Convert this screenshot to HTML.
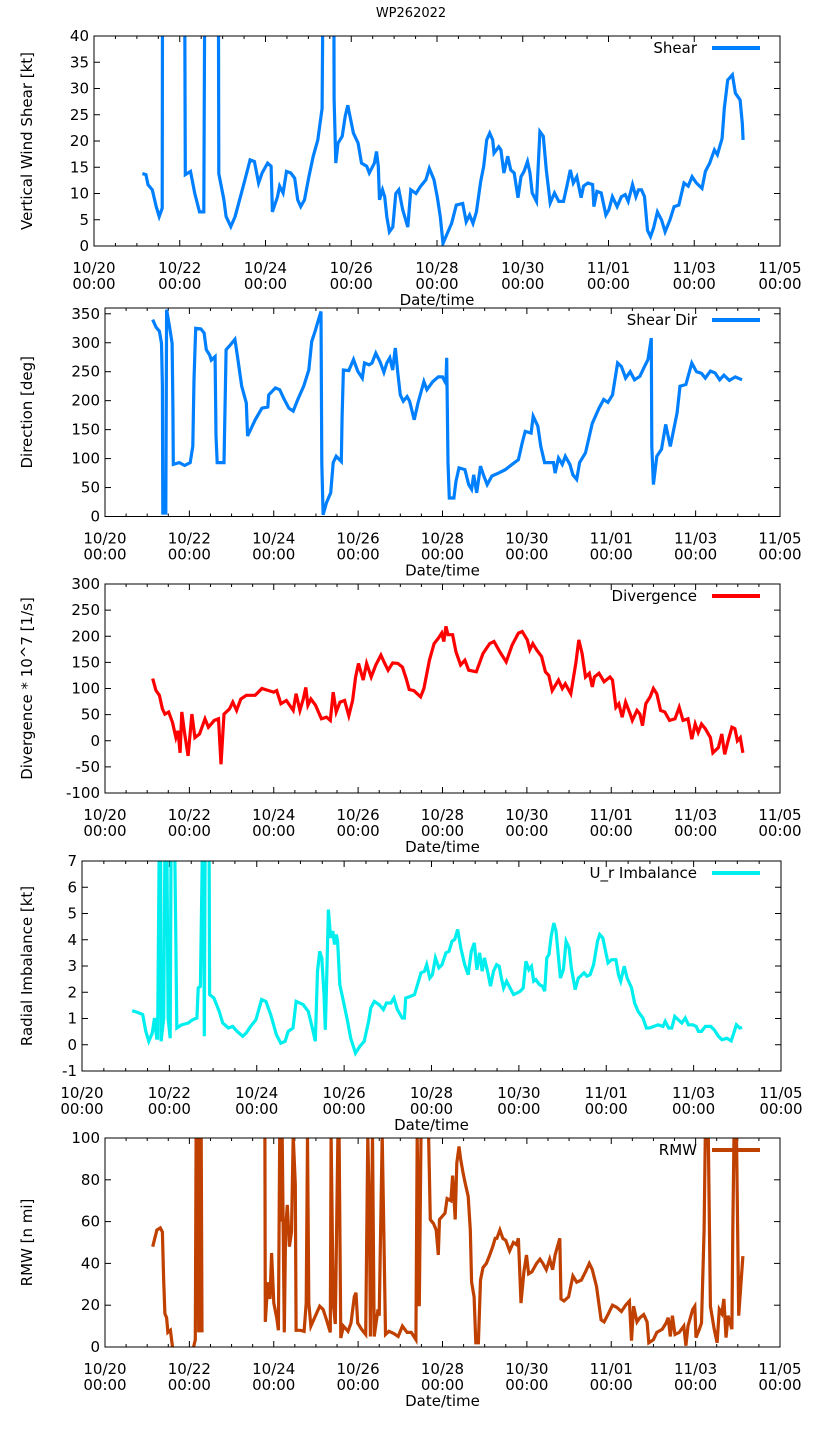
<!DOCTYPE html>
<html><head><meta charset="utf-8"><title>WP262022</title>
<style>
html,body{margin:0;padding:0;background:#fff;}
svg{display:block;font-family:"DejaVu Sans","Liberation Sans",sans-serif;}
</style></head>
<body>
<svg id="chart" width="822" height="1439" viewBox="0 0 822 1439" xmlns="http://www.w3.org/2000/svg">
<text x="411" y="17" text-anchor="middle" font-size="13">WP262022</text>
</svg>
<script>
// ---- data (days since 10/20 00:00, values) ----
const xTickLabels = ["10/20","10/22","10/24","10/26","10/28","10/30","11/01","11/03","11/05"];
const shearDays = [1.13,1.21,1.26,1.36,1.45,1.52,1.59,1.60,2.11,2.13,2.25,2.35,2.46,2.56,2.59,2.90,2.91,3.03,3.08,3.19,3.29,3.50,3.64,3.74,3.84,3.92,4.05,4.13,4.16,4.28,4.33,4.41,4.49,4.59,4.68,4.75,4.82,4.91,5.01,5.11,5.22,5.32,5.35,5.59,5.60,5.64,5.69,5.79,5.86,5.92,5.97,6.05,6.16,6.24,6.36,6.42,6.54,6.59,6.63,6.66,6.73,6.78,6.83,6.89,6.97,7.04,7.11,7.20,7.32,7.39,7.51,7.61,7.74,7.82,7.93,8.01,8.08,8.14,8.24,8.34,8.45,8.60,8.68,8.76,8.84,8.92,9.02,9.09,9.16,9.23,9.30,9.33,9.44,9.49,9.56,9.65,9.72,9.80,9.89,9.96,10.03,10.11,10.17,10.22,10.32,10.40,10.48,10.55,10.64,10.74,10.84,10.95,11.03,11.11,11.18,11.26,11.36,11.42,11.52,11.63,11.66,11.73,11.83,11.94,12.01,12.09,12.20,12.30,12.39,12.46,12.56,12.64,12.70,12.77,12.84,12.91,12.98,13.05,13.14,13.24,13.32,13.43,13.53,13.64,13.76,13.86,13.95,14.05,14.18,14.26,14.36,14.47,14.54,14.65,14.70,14.78,14.89,14.96,15.07,15.12,15.14];
const shearValues = [13.8,13.6,11.7,10.7,7.5,5.6,7.2,60,60,13.6,14.2,10.0,6.5,6.5,60,60,13.8,8.8,5.6,3.7,5.6,12.0,16.4,16.1,12.0,13.9,15.8,15.2,6.5,9.4,11.4,10.1,14.2,13.9,12.9,8.8,7.5,8.8,13.1,17.0,20.2,26.2,60,60,28.0,15.8,19.6,20.9,24.7,26.8,24.7,21.5,19.6,15.8,15.2,13.9,15.8,18.0,15.2,8.8,10.7,9.4,5.6,2.7,3.6,10.0,10.7,6.9,3.6,10.7,10.0,11.3,12.6,14.8,12.6,9.2,5.4,0.5,2.4,4.3,7.8,8.1,4.6,5.9,4.3,6.5,12.3,15.2,20.2,21.5,20.2,17.7,18.9,18.3,13.9,17.1,14.5,13.9,9.2,13.2,14.2,16.1,13.9,10.1,8.5,21.8,20.9,14.5,8.2,10.1,8.5,8.5,11.4,14.5,12.0,13.2,9.2,11.4,12.0,11.7,7.5,10.4,10.1,5.9,6.9,9.4,7.5,9.4,9.8,8.5,11.7,9.4,10.7,10.7,9.4,3.0,1.8,3.4,6.5,4.9,2.7,4.9,7.5,7.8,12.0,11.4,13.2,12.0,11.0,14.2,15.8,18.3,17.4,20.5,26.2,31.6,32.6,29.1,27.8,23.4,20.2];
const dirDays = [1.13,1.21,1.29,1.34,1.36,1.37,1.44,1.46,1.53,1.59,1.61,1.62,1.76,1.89,2.02,2.08,2.11,2.15,2.27,2.35,2.40,2.48,2.52,2.61,2.63,2.66,2.82,2.87,2.98,3.08,3.14,3.24,3.35,3.38,3.56,3.72,3.86,3.88,4.04,4.14,4.25,4.36,4.46,4.57,4.71,4.83,4.90,4.99,5.06,5.12,5.14,5.17,5.25,5.35,5.41,5.48,5.60,5.62,5.65,5.78,5.89,5.99,6.10,6.15,6.26,6.33,6.42,6.52,6.61,6.68,6.75,6.82,6.88,6.94,7.00,7.07,7.16,7.22,7.33,7.42,7.56,7.63,7.77,7.90,8.00,8.08,8.10,8.13,8.16,8.27,8.32,8.39,8.53,8.62,8.69,8.74,8.81,8.90,8.98,9.06,9.17,9.33,9.49,9.65,9.80,9.89,9.96,10.10,10.15,10.26,10.33,10.42,10.63,10.67,10.75,10.84,10.91,11.02,11.09,11.18,11.25,11.39,11.55,11.71,11.82,11.92,12.03,12.15,12.24,12.34,12.45,12.55,12.68,12.77,12.87,12.95,12.96,13.00,13.08,13.19,13.29,13.40,13.56,13.63,13.77,13.91,14.02,14.14,14.23,14.35,14.46,14.57,14.67,14.80,14.94,15.10];
const dirValues = [340,327,320,299,225,6,6,357,328,299,190,90,93,88,93,121,236,325,324,317,288,279,270,276,139,93,93,288,297,306,276,225,196,139,167,187,189,210,222,219,202,187,182,202,225,253,302,322,340,354,93,3,24,41,93,104,95,173,253,252,271,251,239,265,262,265,282,267,249,265,274,253,291,248,210,199,207,199,167,196,233,219,233,241,241,230,274,93,32,32,61,84,81,55,47,72,41,87,70,55,70,75,81,90,98,127,147,144,173,156,121,93,93,75,101,90,104,90,72,64,93,110,161,187,202,197,210,265,259,239,250,236,242,256,271,308,121,55,104,116,159,121,179,225,228,265,250,247,239,251,248,236,244,235,241,236];
const divDays = [1.13,1.21,1.29,1.36,1.42,1.51,1.60,1.68,1.73,1.78,1.82,1.89,1.97,2.06,2.13,2.24,2.37,2.45,2.59,2.69,2.75,2.82,2.95,3.03,3.12,3.22,3.35,3.56,3.72,3.88,4.00,4.07,4.17,4.30,4.46,4.53,4.62,4.70,4.76,4.81,4.88,4.99,5.13,5.25,5.34,5.41,5.48,5.57,5.68,5.78,5.87,5.94,6.01,6.12,6.20,6.31,6.42,6.54,6.63,6.71,6.82,6.94,7.05,7.14,7.21,7.32,7.48,7.56,7.69,7.80,7.90,7.98,8.03,8.08,8.13,8.24,8.32,8.43,8.53,8.62,8.80,8.96,9.12,9.22,9.36,9.51,9.65,9.80,9.89,10.01,10.07,10.14,10.23,10.35,10.44,10.52,10.60,10.75,10.84,10.91,11.04,11.16,11.23,11.31,11.39,11.48,11.55,11.60,11.71,11.83,11.97,12.03,12.11,12.18,12.26,12.34,12.45,12.50,12.61,12.68,12.74,12.82,12.92,13.00,13.08,13.17,13.27,13.38,13.51,13.61,13.70,13.82,13.91,13.99,14.06,14.14,14.23,14.35,14.41,14.54,14.62,14.69,14.76,14.86,14.93,14.99,15.06,15.12];
const divValues = [119,96,87,61,51,55,35,6,19,-23,55,13,-29,51,6,13,42,26,39,42,-45,51,61,74,58,80,87,87,100,96,93,96,71,77,58,90,58,80,102,68,80,68,42,45,39,93,55,74,77,48,77,122,148,116,148,122,145,164,148,135,149,148,141,119,98,96,84,100,154,186,196,206,190,219,203,203,170,145,154,135,132,167,186,190,170,151,183,206,209,193,174,186,174,161,132,125,96,116,100,109,90,148,193,167,122,129,103,122,129,113,122,116,64,71,45,74,51,39,58,51,29,71,84,100,90,58,55,39,42,64,39,42,3,32,16,32,23,6,-23,-13,13,-26,-3,26,23,0,6,-23];
const urDays = [1.15,1.31,1.39,1.46,1.53,1.61,1.66,1.71,1.73,1.77,1.80,1.81,1.87,1.90,1.94,1.97,2.02,2.04,2.12,2.15,2.17,2.28,2.43,2.53,2.63,2.66,2.71,2.76,2.78,2.80,2.82,2.91,2.92,3.02,3.14,3.22,3.35,3.45,3.55,3.68,3.76,3.86,3.98,4.11,4.21,4.32,4.45,4.55,4.65,4.72,4.83,4.90,5.06,5.18,5.29,5.34,5.39,5.44,5.49,5.54,5.57,5.59,5.64,5.69,5.74,5.78,5.82,5.85,5.90,6.00,6.08,6.15,6.26,6.36,6.46,6.56,6.61,6.69,6.80,6.90,6.97,7.07,7.14,7.22,7.33,7.38,7.41,7.51,7.61,7.68,7.76,7.84,7.89,7.96,8.02,8.09,8.17,8.24,8.33,8.40,8.47,8.53,8.60,8.67,8.76,8.84,8.91,8.98,9.04,9.10,9.16,9.21,9.29,9.35,9.42,9.49,9.55,9.59,9.65,9.72,9.80,9.88,9.96,10.03,10.10,10.16,10.23,10.29,10.34,10.39,10.47,10.54,10.59,10.64,10.69,10.74,10.80,10.85,10.90,10.95,11.02,11.08,11.15,11.20,11.29,11.36,11.41,11.49,11.56,11.63,11.71,11.80,11.85,11.92,11.97,12.04,12.12,12.22,12.28,12.33,12.41,12.48,12.58,12.65,12.73,12.84,12.92,12.99,13.09,13.19,13.30,13.35,13.43,13.50,13.57,13.65,13.73,13.81,13.88,13.98,14.06,14.11,14.18,14.27,14.39,14.47,14.57,14.65,14.76,14.86,14.93,14.98,15.06,15.11];
const urValues = [1.30,1.21,1.15,0.51,0.13,0.45,1.02,0.25,0.25,8,8,0.13,1.02,8,8,1.02,0.25,8,8,3.8,0.64,0.76,0.83,0.95,1.02,2.16,2.23,8,8,0.32,8,8,1.91,1.78,1.27,0.83,0.64,0.70,0.51,0.32,0.45,0.70,0.95,1.72,1.65,1.15,0.38,0.06,0.13,0.51,0.64,1.65,1.53,1.27,0.51,0.13,2.80,3.56,3.31,1.91,0.57,1.78,5.15,4.07,4.33,3.82,4.20,3.94,2.29,1.53,0.89,0.25,-0.32,-0.06,0.13,0.89,1.40,1.65,1.53,1.34,1.59,1.59,1.78,1.34,1.02,1.02,1.78,1.84,1.91,2.29,2.74,2.80,3.05,2.54,2.67,3.31,2.93,3.05,3.50,3.56,3.94,4.01,4.39,3.69,3.05,2.67,3.56,3.88,2.86,3.50,2.80,3.31,2.74,2.23,2.80,3.05,2.99,2.61,2.16,2.42,2.16,1.91,1.97,2.04,2.16,3.18,2.86,2.99,2.42,2.48,2.29,2.23,2.04,3.31,3.44,4.14,4.64,4.33,3.44,2.54,2.86,3.94,3.69,2.93,2.10,2.54,2.61,2.74,2.61,2.67,3.05,3.94,4.20,4.07,3.69,3.12,3.24,3.24,2.67,2.42,2.99,2.54,2.16,1.59,1.27,1.02,0.64,0.64,0.70,0.76,0.70,0.89,0.64,0.64,1.08,0.95,0.83,1.02,0.76,0.76,0.70,0.51,0.51,0.70,0.70,0.57,0.32,0.19,0.25,0.15,0.51,0.76,0.64,0.66];
const rmwDays = [1.13,1.18,1.23,1.31,1.36,1.39,1.42,1.46,1.49,1.55,1.60,1.61,2.10,2.14,2.16,2.18,2.20,2.22,2.24,2.26,2.28,2.30,2.31,3.70,3.79,3.80,3.86,3.91,3.95,4.00,4.07,4.11,4.14,4.17,4.20,4.25,4.28,4.32,4.37,4.42,4.46,4.51,4.53,4.63,4.72,4.77,4.80,4.83,4.88,4.99,5.09,5.17,5.25,5.34,5.36,5.41,5.46,5.52,5.55,5.59,5.65,5.76,5.83,5.91,5.95,5.99,6.08,6.18,6.23,6.27,6.29,6.34,6.38,6.47,6.50,6.57,6.61,6.65,6.73,6.84,6.95,7.05,7.16,7.26,7.37,7.40,7.45,7.49,7.58,7.67,7.71,7.79,7.85,7.90,7.93,8.06,8.11,8.20,8.24,8.27,8.30,8.34,8.39,8.43,8.48,8.53,8.61,8.66,8.69,8.75,8.79,8.85,8.90,8.96,9.04,9.12,9.19,9.25,9.29,9.36,9.43,9.50,9.59,9.68,9.75,9.80,9.86,9.93,9.99,10.04,10.12,10.23,10.31,10.38,10.46,10.54,10.61,10.67,10.78,10.81,10.88,10.99,11.09,11.18,11.29,11.39,11.48,11.55,11.65,11.76,11.83,11.92,12.03,12.13,12.24,12.34,12.43,12.48,12.53,12.61,12.68,12.77,12.85,12.89,13.00,13.08,13.21,13.30,13.35,13.40,13.45,13.51,13.61,13.72,13.77,13.82,13.93,13.98,14.01,14.09,14.14,14.20,14.23,14.30,14.35,14.44,14.51,14.56,14.62,14.67,14.72,14.77,14.86,14.88,14.91,14.97,15.02,15.08,15.12];
const rmwValues = [48,52,56,57,55,33,16,14,7,8,0,null,0,3.5,101,53,101,7,101,7,101,7,null,null,101,12,31,23,45,21,14,8,101,60,101,7,56,68,48,55,101,78,8,8,7.5,21,101,21,10,15,19.5,18,13,7,101,21,11,101,101,4.3,10,7.5,11.5,24,26,11.5,8.5,6,101,60,5,101,5,18,15,101,53,6,7.5,6.5,5,10,7,7,3.5,101,19.5,101,101,101,61,59,56,44,61,64,71,70,82,72,61,88,96,90,84,79,72,56,31,24,2,2,32,38,40,44,48,52,52,56,52,51,46,50,49,52,21,36,44,35,36,40,42,40,37,42,37,44,52,23,22,24,34,31,32,36,40,37,29,13,12,15.5,20,19,17,20,22,3,19.5,12,14,15.5,12,2,3.5,7,8.5,11.5,14,5,15,6,7,10,0.6,10,18,19.5,4.5,8.5,11.5,56,101,101,19.5,8.5,2,18,16,23,4.5,15,8.5,56,101,101,15,32,43.5];

// ---- rendering ----
const NS = "http://www.w3.org/2000/svg";
const svg = document.getElementById("chart");
function mk(tag, attrs, parent) {
  const e = document.createElementNS(NS, tag);
  for (const k in attrs) e.setAttribute(k, attrs[k]);
  (parent || svg).appendChild(e);
  return e;
}
const panels = [
  {key:"shear", x0:94, x1:780, yt:36, yb:246, ymin:0, ymax:40, ys:[0,5,10,15,20,25,30,35,40], title:"Vertical Wind Shear [kt]", legend:"Shear", color:"#0080ff", days:shearDays, vals:shearValues},
  {key:"direction", x0:105, x1:780, yt:308, yb:516.5, ymin:0, ymax:360, ys:[0,50,100,150,200,250,300,350], title:"Direction [deg]", legend:"Shear Dir", color:"#0080ff", days:dirDays, vals:dirValues},
  {key:"divergence", x0:105, x1:780, yt:584, yb:793, ymin:-100, ymax:300, ys:[-100,-50,0,50,100,150,200,250,300], title:"Divergence * 10^7 [1/s]", legend:"Divergence", color:"#ff0000", days:divDays, vals:divValues},
  {key:"radial-imbalance", x0:82, x1:781, yt:861, yb:1071, ymin:-1, ymax:7, ys:[-1,0,1,2,3,4,5,6,7], title:"Radial Imbalance [kt]", legend:"U_r Imbalance", color:"#00eeee", days:urDays, vals:urValues},
  {key:"rmw", x0:105, x1:780, yt:1138, yb:1347, ymin:0, ymax:100, ys:[0,20,40,60,80,100], title:"RMW [n mi]", legend:"RMW", color:"#c04000", days:rmwDays, vals:rmwValues}
];
panels.forEach((p, i) => {
  const g = mk("g", {});
  
  
  const xs = d => p.x0 + (d / 16) * (p.x1 - p.x0);
  const ysc = v => p.yb - (v - p.ymin) / (p.ymax - p.ymin) * (p.yb - p.yt);
  const cp = mk("clipPath", {id:"clip" + i}, g);
  mk("rect", {x:p.x0, y:p.yt, width:p.x1 - p.x0, height:p.yb - p.yt}, cp);
  p.ys.forEach(v => {
    const y = ysc(v);
    const t = mk("line", {x1:p.x0, x2:p.x0 + 6, y1:y, y2:y, stroke:"#000", "stroke-width":1}, g);
    
    
    mk("line", {x1:p.x1, x2:p.x1 - 6, y1:y, y2:y, stroke:"#000", "stroke-width":1}, g);
    const lb = mk("text", {x:p.x0 - 5, y:y + 5, "text-anchor":"end", "font-size":15}, g);
    lb.textContent = String(v);
    
    
  });
  for (let h = 0; h <= 32; h++) {
    const x = xs(h / 2);
    const major = h % 4 === 0;
    const len = major ? 6 : 3;
    mk("line", {x1:x, x2:x, y1:p.yb, y2:p.yb - len, stroke:"#000", "stroke-width":1}, g);
    mk("line", {x1:x, x2:x, y1:p.yt, y2:p.yt + len, stroke:"#000", "stroke-width":1}, g);
  }
  xTickLabels.forEach((lab, k) => {
    const x = xs(k * 2);
    const t1 = mk("text", {x:x, y:p.yb + 27, "text-anchor":"middle", "font-size":15}, g);
    t1.textContent = lab;
    
    
    const t2 = mk("text", {x:x, y:p.yb + 43, "text-anchor":"middle", "font-size":15}, g);
    t2.textContent = "00:00";
    
    
  });
  const xt = mk("text", {x:(p.x0 + p.x1) / 2, y:p.yb + 59, "text-anchor":"middle", "font-size":15}, g);
  xt.textContent = "Date/time";
  
  
  const cy = (p.yt + p.yb) / 2;
  const yt = mk("text", {x:0, y:0, transform:"translate(32," + cy + ") rotate(-90)", "text-anchor":"middle", "font-size":15}, g);
  yt.textContent = p.title;
  
  
  let d = "", pen = false;
  for (let k = 0; k < p.days.length; k++) {
    const v = p.vals[k];
    if (v === null || v === undefined) { pen = false; continue; }
    d += (pen ? "L" : "M") + xs(p.days[k]).toFixed(1) + "," + ysc(v).toFixed(1);
    pen = true;
  }
  const path = mk("path", {d:d, fill:"none", stroke:p.color, "stroke-width":3.2, "stroke-linejoin":"miter", "clip-path":"url(#clip" + i + ")"}, g);
  
  
  const fr = mk("rect", {x:p.x0, y:p.yt, width:p.x1 - p.x0, height:p.yb - p.yt, fill:"none", stroke:"#000", "stroke-width":1}, g);
  
  
  const lt = mk("text", {x:697, y:p.yt + 17, "text-anchor":"end", "font-size":15}, g);
  lt.textContent = p.legend;
  
  
  const ll = mk("line", {x1:712, x2:760, y1:p.yt + 12, y2:p.yt + 12, stroke:p.color, "stroke-width":4}, g);
  
  
});
</script>
</body></html>
